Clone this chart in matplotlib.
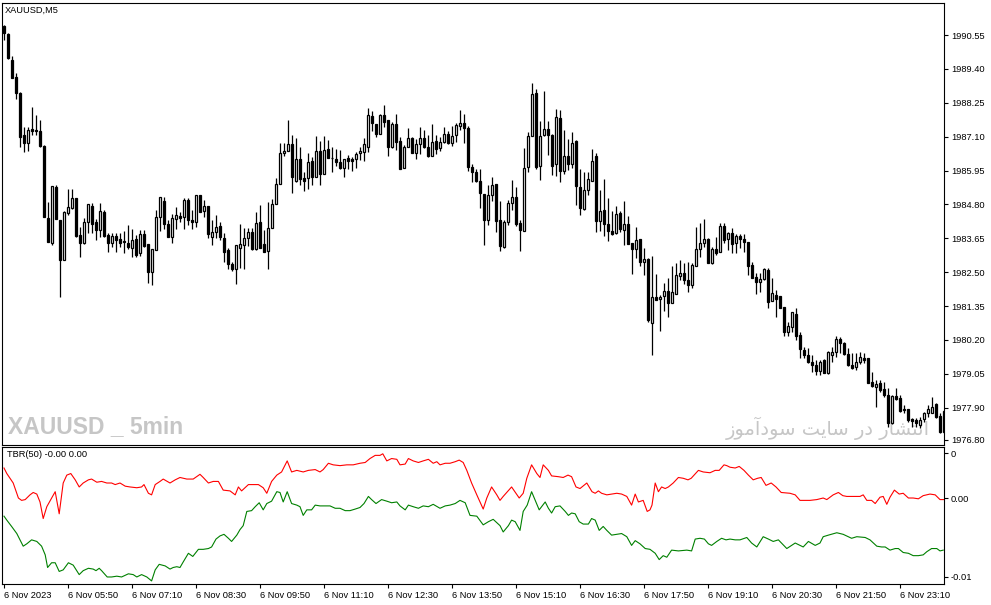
import matplotlib
matplotlib.use("Agg")
import matplotlib.pyplot as plt

plt.rcParams['font.family'] = ['Liberation Sans', 'DejaVu Sans']

chart_title = "XAUUSD,M5"
indicator_title = "TBR(50) -0.00 0.00"
watermark_left = "XAUUSD _ 5min"
watermark_right = "انتشار در سایت سودآموز"

# OHLC of the 5 minute bars, oldest first (bar 0 = 04:30)
opens = [
    1990.87, 1990.59, 1989.71, 1989.13, 1988.59, 1987.16, 1986.89, 1987.36, 1987.33, 1987.29,
    1986.78, 1984.34, 1983.49, 1985.39, 1984.27, 1982.91, 1984.51, 1984.68, 1985.02, 1983.76,
    1983.49, 1984.20, 1984.75, 1984.20, 1983.93, 1984.54, 1983.76, 1983.49, 1983.73, 1983.62,
    1983.56, 1983.49, 1983.32, 1983.62, 1983.15, 1983.79, 1983.45, 1982.50, 1983.25, 1984.37,
    1984.92, 1984.13, 1983.69, 1984.30, 1984.41, 1984.37, 1984.95, 1984.27, 1984.20, 1985.12,
    1984.58, 1984.75, 1983.69, 1983.86, 1984.07, 1983.66, 1983.25, 1982.77, 1982.60, 1983.32,
    1983.42, 1983.66, 1983.86, 1983.28, 1984.20, 1983.45, 1983.22, 1984.00, 1984.81, 1985.49,
    1986.55, 1986.61, 1986.85, 1985.60, 1986.34, 1985.70, 1985.70, 1986.28, 1985.73, 1986.61,
    1985.83, 1986.68, 1986.38, 1986.34, 1986.24, 1986.04, 1986.38, 1986.34, 1986.34, 1986.55,
    1986.58, 1986.75, 1987.81, 1987.53, 1987.19, 1987.84, 1987.67, 1986.75, 1987.53, 1986.96,
    1986.04, 1986.75, 1987.06, 1986.55, 1986.85, 1987.06, 1986.75, 1986.45, 1986.96, 1986.72,
    1986.92, 1987.19, 1986.89, 1987.16, 1987.47, 1987.57, 1987.40, 1986.07, 1985.90, 1985.60,
    1985.15, 1984.27, 1985.12, 1985.49, 1984.27, 1983.35, 1984.20, 1984.85, 1985.05, 1984.17,
    1983.90, 1986.07, 1987.13, 1988.59, 1986.11, 1987.16, 1987.36, 1987.16, 1986.17, 1987.74,
    1985.94, 1986.45, 1986.17, 1986.96, 1985.39, 1984.64, 1985.29, 1985.60, 1986.45, 1984.24,
    1984.61, 1984.13, 1983.90, 1983.83, 1984.51, 1983.93, 1984.13, 1983.49, 1983.28, 1983.62,
    1982.84, 1982.94, 1980.77, 1981.65, 1981.58, 1981.69, 1981.86, 1981.45, 1981.75, 1982.37,
    1982.47, 1982.23, 1982.06, 1982.71, 1983.28, 1983.49, 1983.62, 1982.81, 1983.28, 1983.18,
    1984.07, 1983.62, 1983.83, 1983.49, 1983.73, 1983.62, 1983.52, 1982.74, 1982.33, 1982.16,
    1982.26, 1982.57, 1981.52, 1981.72, 1981.69, 1981.31, 1980.46, 1980.63, 1981.07, 1980.36,
    1979.85, 1979.68, 1979.44, 1979.34, 1979.14, 1979.51, 1979.07, 1979.68, 1979.78, 1980.22,
    1980.09, 1979.71, 1979.34, 1979.27, 1979.44, 1979.58, 1979.58, 1978.76, 1978.59, 1978.73,
    1978.52, 1978.32, 1977.37, 1978.29, 1978.22, 1977.84, 1977.84, 1977.50, 1977.47, 1977.30,
    1977.50, 1977.71, 1977.71, 1978.01, 1977.61, 1977.06,
]
highs = [
    1990.90, 1990.63, 1989.85, 1989.27, 1988.62, 1987.43, 1987.43, 1988.11, 1987.84, 1987.67,
    1986.82, 1984.88, 1985.43, 1985.46, 1984.27, 1984.58, 1985.32, 1985.32, 1985.02, 1984.03,
    1984.34, 1984.81, 1984.85, 1984.30, 1984.85, 1984.61, 1983.83, 1983.83, 1983.83, 1983.83,
    1983.90, 1984.10, 1983.96, 1983.76, 1983.93, 1983.93, 1983.45, 1983.28, 1984.61, 1985.05,
    1985.05, 1984.27, 1984.47, 1984.71, 1984.54, 1985.02, 1985.02, 1984.61, 1985.12, 1985.12,
    1984.95, 1984.75, 1984.27, 1984.44, 1984.20, 1983.83, 1983.32, 1982.84, 1983.42, 1984.13,
    1984.00, 1984.00, 1984.00, 1984.54, 1984.78, 1983.93, 1984.88, 1984.98, 1985.70, 1986.89,
    1986.89, 1987.67, 1987.16, 1987.06, 1986.75, 1985.90, 1986.55, 1986.41, 1987.13, 1986.96,
    1987.13, 1986.99, 1986.75, 1986.68, 1986.65, 1986.34, 1986.48, 1986.41, 1986.58, 1986.75,
    1987.06, 1988.08, 1987.98, 1987.53, 1987.87, 1988.18, 1987.67, 1987.60, 1987.87, 1987.09,
    1986.82, 1987.40, 1987.09, 1987.02, 1987.43, 1987.33, 1987.16, 1987.53, 1987.16, 1987.09,
    1987.43, 1987.29, 1987.47, 1987.57, 1988.01, 1987.87, 1987.47, 1986.17, 1986.00, 1986.00,
    1985.15, 1985.46, 1985.73, 1985.49, 1984.92, 1984.27, 1984.95, 1985.63, 1985.39, 1984.27,
    1986.72, 1987.26, 1988.93, 1988.72, 1987.64, 1988.66, 1987.64, 1987.19, 1988.04, 1988.01,
    1987.33, 1987.02, 1987.26, 1986.99, 1986.00, 1985.90, 1985.90, 1986.68, 1986.55, 1985.29,
    1985.66, 1985.02, 1984.58, 1984.75, 1984.58, 1984.92, 1984.41, 1983.49, 1984.03, 1983.62,
    1983.32, 1982.98, 1983.05, 1982.43, 1981.72, 1982.13, 1982.30, 1982.71, 1982.81, 1982.91,
    1982.81, 1982.84, 1982.81, 1984.03, 1984.17, 1984.30, 1983.66, 1983.35, 1983.69, 1984.17,
    1984.17, 1983.86, 1984.00, 1983.79, 1983.79, 1983.79, 1983.52, 1982.84, 1982.47, 1982.47,
    1982.64, 1982.64, 1982.30, 1981.89, 1981.69, 1981.31, 1980.80, 1981.14, 1981.28, 1980.46,
    1979.95, 1979.92, 1979.68, 1979.51, 1979.51, 1979.54, 1979.82, 1979.95, 1980.33, 1980.29,
    1980.12, 1979.92, 1979.75, 1979.75, 1979.78, 1979.75, 1979.58, 1979.10, 1978.83, 1978.83,
    1978.76, 1978.56, 1978.32, 1978.56, 1978.32, 1977.98, 1977.84, 1977.54, 1977.54, 1977.57,
    1977.74, 1977.98, 1978.25, 1978.05, 1977.71, 1977.81,
]
lows = [
    1990.39, 1989.74, 1989.10, 1988.38, 1986.75, 1986.58, 1986.61, 1987.16, 1987.16, 1986.75,
    1984.37, 1983.52, 1983.42, 1984.30, 1981.65, 1982.91, 1984.44, 1984.64, 1983.69, 1983.01,
    1983.45, 1983.83, 1983.83, 1983.59, 1983.69, 1983.69, 1983.18, 1983.35, 1983.18, 1983.35,
    1983.15, 1983.28, 1983.01, 1983.01, 1983.05, 1983.35, 1982.13, 1982.06, 1983.25, 1983.90,
    1983.96, 1983.69, 1983.49, 1983.96, 1984.20, 1983.96, 1984.10, 1983.96, 1984.03, 1984.54,
    1984.37, 1983.66, 1983.42, 1983.66, 1983.59, 1982.84, 1982.60, 1982.54, 1982.09, 1982.64,
    1982.60, 1983.39, 1983.25, 1983.25, 1983.32, 1983.18, 1982.60, 1984.00, 1984.81, 1985.49,
    1986.45, 1986.61, 1985.19, 1985.56, 1985.46, 1985.26, 1985.32, 1985.46, 1985.73, 1985.46,
    1985.83, 1986.38, 1985.90, 1986.11, 1986.00, 1985.73, 1986.00, 1985.94, 1986.04, 1986.31,
    1986.28, 1986.58, 1987.29, 1987.09, 1987.19, 1987.43, 1986.45, 1986.72, 1986.65, 1986.00,
    1986.04, 1986.75, 1986.55, 1986.34, 1986.51, 1986.72, 1986.41, 1986.45, 1986.51, 1986.61,
    1986.89, 1986.85, 1986.78, 1986.92, 1987.33, 1986.89, 1985.94, 1985.56, 1985.56, 1984.68,
    1983.42, 1984.10, 1984.92, 1983.86, 1983.22, 1983.32, 1984.10, 1984.61, 1984.07, 1983.22,
    1983.90, 1985.90, 1987.13, 1986.00, 1985.63, 1987.13, 1986.48, 1985.80, 1985.77, 1985.56,
    1985.83, 1985.97, 1986.04, 1984.78, 1984.44, 1984.61, 1985.12, 1985.60, 1983.86, 1983.90,
    1983.73, 1983.56, 1983.76, 1983.79, 1983.86, 1983.42, 1983.45, 1982.43, 1982.98, 1982.71,
    1982.40, 1980.80, 1979.68, 1981.55, 1980.50, 1981.18, 1980.97, 1981.45, 1981.75, 1982.23,
    1982.09, 1981.82, 1981.96, 1982.71, 1983.01, 1983.35, 1982.81, 1982.77, 1983.08, 1983.18,
    1983.49, 1983.25, 1983.15, 1983.15, 1983.32, 1983.18, 1982.40, 1982.30, 1981.75, 1981.82,
    1982.23, 1981.28, 1981.52, 1980.97, 1981.28, 1980.33, 1980.33, 1980.46, 1980.19, 1979.58,
    1979.58, 1979.41, 1979.10, 1979.00, 1979.00, 1979.07, 1979.03, 1979.44, 1979.61, 1979.75,
    1979.68, 1979.31, 1979.20, 1979.17, 1979.37, 1979.41, 1978.73, 1978.59, 1977.91, 1978.42,
    1978.25, 1977.23, 1977.33, 1978.15, 1977.74, 1977.71, 1977.40, 1977.23, 1977.23, 1977.20,
    1977.40, 1977.57, 1977.71, 1977.54, 1977.03, 1977.03,
]
closes = [
    1990.63, 1989.78, 1989.10, 1988.59, 1987.09, 1986.89, 1987.33, 1987.29, 1987.29, 1986.78,
    1984.37, 1983.52, 1985.43, 1984.30, 1982.91, 1984.54, 1984.71, 1985.02, 1983.73, 1983.49,
    1984.20, 1984.81, 1984.13, 1983.93, 1984.58, 1983.73, 1983.49, 1983.73, 1983.59, 1983.49,
    1983.52, 1983.35, 1983.59, 1983.08, 1983.79, 1983.39, 1982.50, 1983.28, 1984.37, 1985.05,
    1984.13, 1983.69, 1984.34, 1984.44, 1984.34, 1984.95, 1984.27, 1984.20, 1985.12, 1984.54,
    1984.75, 1983.79, 1983.86, 1984.03, 1983.69, 1983.18, 1982.77, 1982.60, 1983.42, 1983.45,
    1983.66, 1983.86, 1983.28, 1984.17, 1983.32, 1983.18, 1984.00, 1984.81, 1985.49, 1986.55,
    1986.61, 1986.85, 1985.73, 1986.34, 1985.66, 1985.60, 1986.24, 1985.73, 1986.61, 1985.83,
    1986.65, 1986.38, 1986.36, 1986.24, 1986.04, 1986.34, 1986.28, 1986.28, 1986.51, 1986.61,
    1986.85, 1987.84, 1987.57, 1987.19, 1987.84, 1987.60, 1986.75, 1987.53, 1986.92, 1986.00,
    1986.75, 1987.06, 1986.55, 1986.85, 1987.06, 1986.75, 1986.45, 1986.92, 1986.68, 1986.92,
    1987.19, 1986.89, 1987.13, 1987.50, 1987.57, 1987.40, 1986.07, 1985.90, 1985.60, 1985.19,
    1984.27, 1985.12, 1985.46, 1984.24, 1983.39, 1984.20, 1984.85, 1985.05, 1984.13, 1983.93,
    1986.04, 1987.13, 1988.55, 1986.07, 1987.13, 1987.36, 1987.16, 1986.11, 1987.77, 1985.94,
    1986.45, 1986.17, 1986.89, 1985.43, 1984.68, 1985.29, 1985.66, 1986.28, 1984.24, 1984.58,
    1984.13, 1983.90, 1983.79, 1984.47, 1983.96, 1984.13, 1983.45, 1983.28, 1983.59, 1982.84,
    1982.94, 1980.87, 1981.65, 1981.55, 1981.65, 1981.86, 1981.45, 1981.82, 1982.40, 1982.47,
    1982.23, 1982.06, 1982.74, 1983.28, 1983.49, 1983.62, 1982.81, 1983.28, 1983.15, 1984.07,
    1983.59, 1983.83, 1983.45, 1983.73, 1983.62, 1983.52, 1982.71, 1982.30, 1982.16, 1982.26,
    1982.60, 1981.48, 1981.79, 1981.58, 1981.28, 1980.46, 1980.67, 1981.14, 1980.33, 1979.88,
    1979.68, 1979.44, 1979.34, 1979.14, 1979.44, 1979.07, 1979.78, 1979.78, 1980.22, 1980.09,
    1979.71, 1979.34, 1979.24, 1979.44, 1979.61, 1979.51, 1978.73, 1978.63, 1978.69, 1978.49,
    1978.32, 1977.37, 1978.29, 1978.18, 1977.78, 1977.81, 1977.47, 1977.44, 1977.37, 1977.47,
    1977.71, 1977.84, 1977.91, 1977.57, 1977.06, 1977.78,
]

price_ticks = [1990.55, 1989.40, 1988.25, 1987.10, 1985.95, 1984.80, 1983.65,
               1982.50, 1981.35, 1980.20, 1979.05, 1977.90, 1976.80]

time_tick_bars = [0, 16, 32, 48, 64, 80, 96, 112, 128, 144, 160, 176, 192, 208, 224]
time_tick_labels = ["6 Nov 2023", "6 Nov 05:50", "6 Nov 07:10", "6 Nov 08:30",
                    "6 Nov 09:50", "6 Nov 11:10", "6 Nov 12:30", "6 Nov 13:50",
                    "6 Nov 15:10", "6 Nov 16:30", "6 Nov 17:50", "6 Nov 19:10",
                    "6 Nov 20:30", "6 Nov 21:50", "6 Nov 23:10"]

ind_ticks = [0.0057, 0.0, -0.01]
ind_tick_labels = ["0", "0.00", "-0.01"]

# TBR(50) lines, position in bars / value
red_x = [
    0, 0.7, 2.3, 3.6, 4.4, 5.3, 6.5, 7.3, 8.2, 9, 9.8, 10.7, 11.9, 12.8, 13.8, 14.8, 15.7,
    16.7, 17.8, 18.8, 19.8, 21.1, 21.9, 23.2, 24.4, 25.7, 26.9, 27.8, 29, 30.3, 31.5, 33.2,
    34.4, 35, 36.1, 36.9, 37.8, 39, 39.8, 41.5, 42.8, 44, 45.7, 47.3, 49, 49.8, 51.1, 52.3,
    53.6, 54.8, 56.5, 57.8, 58.6, 59.4, 61.1, 62.3, 63.6, 64.8, 65.7, 66.9, 68.2, 69.4, 70.8,
    71.9, 73.2, 74.8, 76.1, 77.8, 79, 79.8, 81.1, 82.3, 84, 85.7, 87.3, 89, 90.3, 91.5, 92.8,
    94, 94.7, 95.7, 96.9, 98.2, 99, 100.3, 101.1, 102.3, 103.6, 104.8, 106.1, 107.3, 108.2,
    109, 110.3, 111.5, 112.8, 113.8, 114.8, 115.7, 116.9, 118.2, 119.8, 120.7, 121.9, 123.2,
    124, 124.8, 126.9, 128.8, 129.8, 130.7, 131.9, 133.2, 134, 134.8, 136.1, 136.9, 138.6,
    139.8, 141, 141.9, 143, 144, 145.7, 147, 147.8, 148.6, 149.4, 150.7, 151.9, 153.2, 154.4,
    155.7, 156.9, 157.8, 158.6, 159.8, 160.8, 161.5, 162, 162.8, 163.6, 164.4, 165.3, 166.1,
    167.3, 168.6, 169.8, 171, 171.8, 173.6, 174.8, 176.5, 177.8, 178.8, 180, 180.7, 181.5,
    182.8, 183.8, 185, 186.1, 187.3, 188.4, 189.3, 190.5, 191.8, 193, 194.3, 196.5, 197.8,
    199, 201.5, 203.2, 204.8, 205.7, 207.3, 208.6, 209.7, 210.7, 212.3, 214, 214.8, 215.7,
    216.9, 217.8, 219, 219.8, 220.7, 221.5, 222.6, 223.8, 224.8, 226.1, 227.3, 228.6, 229.8,
    231.5, 232.8, 234, 235.3,
]
red_v = [
    .0038, .0031, .0019, .0000, -.0003, -.0002, .0004, .0007, .0005, -.0005, -.0026, -.0011,
    .0000, .0008, -.0020, .0019, .0029, .0031, .0023, .0014, .0019, .0023, .0024, .0020,
    .0021, .0019, .0019, .0017, .0019, .0015, .0014, .0013, .0014, .0017, .0006, .0004,
    .0017, .0021, .0024, .0019, .0023, .0026, .0024, .0024, .0030, .0026, .0019, .0021,
    .0021, .0010, .0009, .0004, .0014, .0009, .0017, .0017, .0017, .0013, .0006, .0021,
    .0029, .0033, .0047, .0033, .0035, .0033, .0035, .0036, .0033, .0036, .0044, .0042,
    .0041, .0042, .0042, .0044, .0045, .0050, .0054, .0054, .0056, .0047, .0050, .0049,
    .0042, .0043, .0050, .0047, .0045, .0047, .0049, .0044, .0046, .0042, .0044, .0044,
    .0046, .0048, .0045, .0035, .0019, .0004, -.0014, .0000, .0014, .0004, -.0003,
    .0002, .0014, .0000, .0006, .0025, .0042, .0031, .0026, .0042, .0035, .0028, .0027,
    .0026, .0029, .0027, .0014, .0012, .0019, .0008, .0006, .0009, .0006, .0004, .0005,
    .0006, .0005, .0002, -.0009, .0005, -.0005, -.0003, -.0017, -.0015, -.0009, .0019,
    .0008, .0014, .0012, .0014, .0019, .0026, .0025, .0023, .0025, .0035, .0033, .0032,
    .0035, .0035, .0042, .0041, .0039, .0038, .0040, .0035, .0029, .0023, .0025, .0026,
    .0016, .0019, .0014, .0007, .0006, .0004, -.0003, -.0003, -.0002, .0000, -.0002,
    .0004, .0007, .0003, .0002, .0002, .0002, .0004, -.0003, -.0003, -.0007, .0001,
    .0002, -.0008, .0001, .0010, .0005, .0006, .0000, .0000, -.0001, .0003, .0005,
    .0004, -.0002, -.0002,
]
green_x = [
    0, 0.7, 1.9, 3.2, 4.8, 5.7, 6.9, 8.2, 9.4, 10.3, 10.9, 11.9, 12.8, 13.8, 14.8, 16.1,
    17.3, 18.8, 19.8, 21.1, 22.3, 23, 23.8, 24.4, 25.8, 26.9, 28.2, 29.4, 31.1, 32.3, 33.2,
    34.4, 35.7, 36.9, 37.8, 38.8, 40.3, 41.5, 42.3, 43.2, 44, 44.8, 46.1, 47.2, 48.6, 49.8,
    51.1, 51.9, 53, 54, 55, 56.1, 56.9, 58.2, 59, 59.8, 60.7, 61.9, 62.8, 63.8, 64.8, 65.7,
    66.9, 68.2, 69, 69.8, 70.8, 71.9, 73.2, 74, 74.8, 75.7, 76.9, 77.8, 79, 80.3, 81.5, 82.8,
    84, 85.3, 86.5, 87.8, 89, 90, 91.1, 91.9, 93, 94.4, 95.7, 96.9, 98.2, 99, 100.3, 101.1,
    102.3, 103.6, 104.8, 106.1, 107.3, 109, 110.3, 111.5, 112.8, 114, 115.3, 116.5, 118.2,
    119.8, 121.1, 122.3, 124,
    124.8, 126.1, 126.9, 127.8, 129, 129.8, 130.8, 131.9, 132.8, 133.8, 134.7, 135.3, 136.1,
    136.9, 137.8, 139, 140.3, 141.1, 141.9, 142.8, 143.8, 144.8, 146.1, 146.9, 147.8, 148.8,
    149.8, 150.7, 151.9, 153.2, 154.4, 155.7, 156.9, 157.8, 159, 160.3, 161.5, 162.8, 163.8,
    164.8, 165.7, 166.9, 168.6, 170.7, 171.9, 172.8, 174, 175.1, 176.1, 176.9, 178.2, 179.4,
    180.5, 181.5, 182.8, 184, 185.7, 186.9, 188.2, 189.8, 191.1, 192.3, 193.6, 195.7, 196.9,
    197.8, 199, 199.8, 201.1, 202.8, 204, 204.8, 206.1, 208.2, 209.8, 211.1, 211.9, 213.2,
    215.3, 216.5, 218.2, 219.4, 220.3, 221.5, 222.8, 223.6, 224.8, 226.1, 227.3, 228.6,
    229.8, 230.7, 231.9, 233.2, 234, 234.8,
]
green_v = [
    -.0023, -.0028, -.0036, -.0045, -.0061, -.0058, -.0053, -.0055, -.0061, -.0072, -.0088,
    -.0082, -.0082, -.0093, -.0091, -.0082, -.0085, -.0097, -.0092, -.0089, -.0090, -.0092,
    -.0089, -.0092, -.0100, -.0100, -.0099, -.0100, -.0096, -.0097, -.0100, -.0097, -.0100,
    -.0105, -.0091, -.0084, -.0086, -.0090, -.0088, -.0087, -.0088, -.0081, -.0070, -.0074,
    -.0065, -.0065, -.0064, -.0062, -.0052, -.0048, -.0046, -.0051, -.0055, -.0047, -.0040,
    -.0035, -.0017, -.0016, -.0011, -.0006, -.0015, -.0007, -.0004, .0008, .0007, -.0005,
    .0008, -.0007, -.0009, -.0011, -.0022, -.0015, -.0015, -.0009, -.0010, -.0010, -.0010,
    -.0013, -.0013, -.0016, -.0016, -.0014, -.0012, -.0007, .0002, -.0002, -.0007, -.0002,
    -.0004, -.0006, -.0005, -.0010, -.0015, -.0009, -.0011, -.0013, -.0010, -.0011, -.0008,
    -.0013, -.0010, -.0009, -.0007, -.0003, -.0006, -.0022, -.0023, -.0034, -.0030, -.0027,
    -.0035,
    -.0043, -.0035, -.0028, -.0030, -.0041, -.0017, -.0009, .0008, -.0003, -.0015, -.0009,
    -.0005, -.0013, -.0019, -.0011, -.0010, -.0017, -.0022, -.0019, -.0020, -.0030, -.0033,
    -.0033, -.0026, -.0028, -.0041, -.0036, -.0041, -.0047, -.0046, -.0045, -.0049, -.0060,
    -.0054, -.0058, -.0064, -.0065, -.0070, -.0078, -.0073, -.0075, -.0066, -.0067, -.0066,
    -.0067, -.0052, -.0051, -.0052, -.0058, -.0060, -.0055, -.0051, -.0053, -.0052, -.0053,
    -.0053, -.0050, -.0057, -.0062, -.0049, -.0052, -.0055, -.0053, -.0064, -.0060, -.0057,
    -.0060, -.0062, -.0055, -.0060, -.0057, -.0049, -.0047, -.0044, -.0046, -.0049, -.0051,
    -.0049, -.0050, -.0053, -.0061, -.0062, -.0062, -.0066, -.0064, -.0064, -.0069, -.0070,
    -.0073, -.0073, -.0072, -.0068, -.0064, -.0064, -.0067, -.0066,
]


def shape_persian(text):
    # minimal contextual shaping for the letters used, then visual (LTR) order
    forms = {
        'ا': ('\ufe8d', '\ufe8e', None, None), 'آ': ('\ufe81', '\ufe82', None, None),
        'ر': ('\ufead', '\ufeae', None, None), 'د': ('\ufea9', '\ufeaa', None, None),
        'ز': ('\ufeaf', '\ufeb0', None, None), 'و': ('\ufeed', '\ufeee', None, None),
        'ن': ('\ufee5', '\ufee6', '\ufee7', '\ufee8'), 'ت': ('\ufe95', '\ufe96', '\ufe97', '\ufe98'),
        'ش': ('\ufeb5', '\ufeb6', '\ufeb7', '\ufeb8'), 'س': ('\ufeb1', '\ufeb2', '\ufeb3', '\ufeb4'),
        'م': ('\ufee1', '\ufee2', '\ufee3', '\ufee4'), 'ی': ('\ufef1', '\ufef2', '\ufef3', '\ufef4'),
    }
    out = []
    for i, ch in enumerate(text):
        if ch not in forms:
            out.append(ch)
            continue
        prev = text[i - 1] if i > 0 else ''
        nxt = text[i + 1] if i + 1 < len(text) else ''
        join_prev = prev in forms and forms[prev][2] is not None
        join_next = forms[ch][2] is not None and nxt in forms
        iso, fin, ini, med = forms[ch]
        if join_prev and join_next:
            out.append(med)
        elif join_prev:
            out.append(fin)
        elif join_next:
            out.append(ini)
        else:
            out.append(iso)
    return ''.join(reversed(out))


W, H = 991, 605
fig = plt.figure(figsize=(W / 100, H / 100), dpi=100)
ax = fig.add_axes([2 / W, 1 - 445 / H, 942 / W, 442 / H])
ax2 = fig.add_axes([2 / W, 1 - 584 / H, 942 / W, 137 / H])

# candles
xs = list(range(len(opens)))
body_lo = [min(o, c) for o, c in zip(opens, closes)]
body_h = [max(abs(c - o), 0.01) for o, c in zip(opens, closes)]
body_col = ['white' if c >= o else 'black' for o, c in zip(opens, closes)]
ax.vlines(xs, lows, highs, color='black', linewidth=0.9, zorder=2)
ax.bar(xs, body_h, bottom=body_lo, width=0.58, color=body_col,
       edgecolor='black', linewidth=0.9, zorder=3)

ax.set_xlim(-0.5, 235)
ax.set_ylim(1976.63, 1991.64)
ax.set_xticks([])
ax.yaxis.tick_right()
ax.set_yticks(price_ticks)
ax.set_yticklabels([f"{p:.2f}" for p in price_ticks])

ax.annotate(chart_title, xy=(0, 1), xycoords='axes fraction', xytext=(3, -3),
            textcoords='offset pixels', va='top', ha='left', fontsize=6.7)
ax.annotate(watermark_left, xy=(0, 0), xycoords='axes fraction', xytext=(6, 7),
            textcoords='offset pixels', va='bottom', ha='left', fontsize=16.5,
            fontweight='bold', color='#c6c6c6', zorder=1)
ax.annotate(shape_persian(watermark_right), xy=(1, 0), xycoords='axes fraction',
            xytext=(-14, 5), textcoords='offset pixels', va='bottom', ha='right',
            fontsize=14, color='#c6c6c6', zorder=1, family=['DejaVu Sans'])

# indicator
ax2.plot(red_x, red_v, color='#ff0000', linewidth=0.8)
ax2.plot(green_x, green_v, color='#008000', linewidth=0.8)
ax2.set_xlim(-0.5, 235)
ax2.set_ylim(-0.01089, 0.00646)
ax2.yaxis.tick_right()
ax2.set_yticks(ind_ticks)
ax2.set_yticklabels(ind_tick_labels)
ax2.set_xticks(time_tick_bars)
ax2.set_xticklabels(time_tick_labels, ha='left')
ax2.annotate(indicator_title, xy=(0, 1), xycoords='axes fraction', xytext=(5, -3),
             textcoords='offset pixels', va='top', ha='left', fontsize=6.7)

for a in (ax, ax2):
    a.set_facecolor('white')
    for s in a.spines.values():
        s.set_color('black')
        s.set_linewidth(0.8)
    a.tick_params(axis='y', direction='out', length=3, width=0.8, pad=2, labelsize=6.7)
    a.tick_params(axis='x', direction='out', length=3, width=0.8, pad=2, labelsize=6.7)

fig.savefig('out.png', dpi=100, facecolor='white')
